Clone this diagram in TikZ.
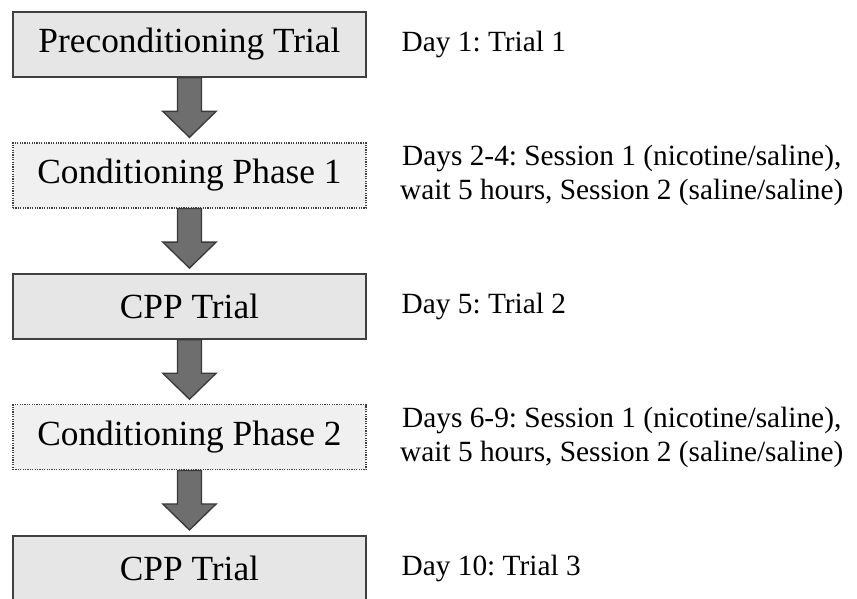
\documentclass[tikz,border=0pt]{standalone}
\usepackage{fontspec}
\setmainfont{Liberation Serif}
\frenchspacing
\usetikzlibrary{calc}
\usetikzlibrary{positioning}
\definecolor{boxfill}{HTML}{E6E6E6}
\definecolor{phasefill}{HTML}{F0F0F0}
\definecolor{boxedge}{HTML}{404040}
\definecolor{arrfill}{HTML}{6E6E6E}
\definecolor{arredge}{HTML}{3A3A3A}
\tikzset{stage/.style={rectangle,draw=boxedge,fill=boxfill,line width=1.2pt,minimum width=264.75pt,minimum height=48.75pt,inner sep=0pt,font=\fontsize{26.5}{30}\selectfont}}
\tikzset{phase/.style={stage,fill=phasefill,line width=0.9pt,dash pattern=on 0.9pt off 0.9pt}}
\tikzset{note/.style={inner sep=0pt,align=center,font=\fontsize{22}{26}\selectfont}}
\tikzset{blockarr/.style={fill=arrfill,draw=arredge,line width=1pt,line join=miter}}

\begin{document}
\begin{tikzpicture}[node distance=48.4pt]

\useasboundingbox (0,0) rectangle (642.75pt,-449.25pt);

\node[stage] (pre) at (142.1pt,-33.4pt) {Preconditioning Trial};
\node[phase, below=of pre] (cond1) {Conditioning Phase 1};
\node[stage, below=of cond1] (cpp1) {CPP Trial};
\node[phase, below=of cpp1] (cond2) {Conditioning Phase 2};
\node[stage, below=of cond2] (cpp2) {CPP Trial};

\node[note, right=26pt of pre] (d1) {Day 1: Trial 1};
\node[note, right=25pt of cond1] (d2) {Days 2-4: Session 1 (nicotine/saline),\\wait 5 hours, Session 2 (saline/saline)};
\node[note, right=26pt of cpp1] (d5) {Day 5: Trial 2};
\node[note, right=25pt of cond2] (d6) {Days 6-9: Session 1 (nicotine/saline),\\wait 5 hours, Session 2 (saline/saline)};
\node[note, right=26pt of cpp2] (d10) {Day 10: Trial 3};

\foreach \a/\b in {pre/cond1, cond1/cpp1, cpp1/cond2, cond2/cpp2}
  {
 \draw[blockarr] ($ (\a.south)+(-9pt,0) $) -- ($ (\b.north)+(-9pt,23.25pt) $)
   -- ($ (\b.north)+(-20pt,23.25pt) $) -- ($ (\b.north)+(0,3.75pt) $)
   -- ($ (\b.north)+(20pt,23.25pt) $) -- ($ (\b.north)+(9pt,23.25pt) $)
   -- ($ (\a.south)+(9pt,0) $) -- cycle;
 }

\end{tikzpicture}
\end{document}
